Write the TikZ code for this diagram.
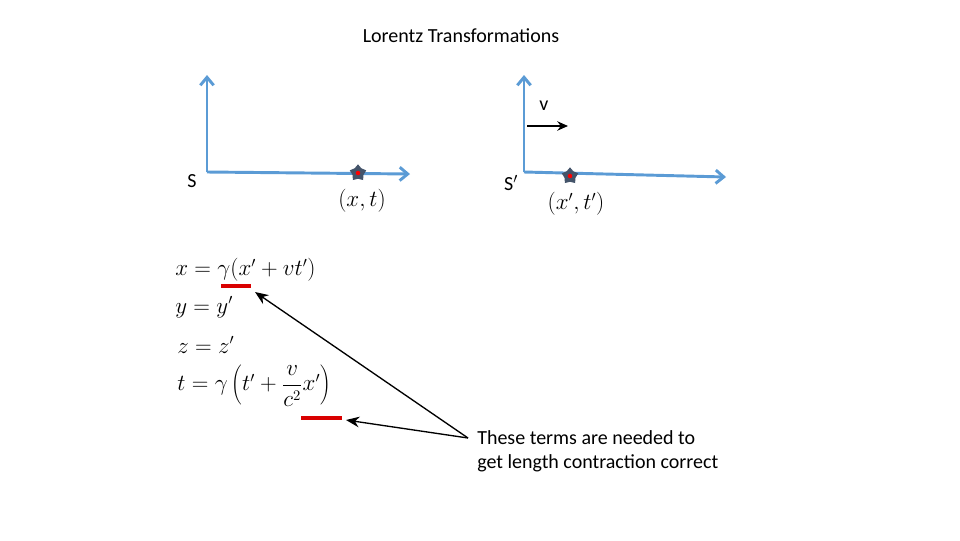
\documentclass[tikz,border=0pt]{standalone}
\usepackage{fontspec}
\setmainfont{Carlito}
\usetikzlibrary{arrows.meta,shapes.geometric}
\begin{document}
\begin{tikzpicture}[x=0.75pt,y=-0.75pt,
  ax/.style={draw={rgb,255:red,91;green,155;blue,213},line width=2.2pt,-{Straight Barb[length=6pt,width=10pt]}},
  starmark/.style={star,star points=5,fill={rgb,255:red,68;green,84;blue,106},minimum size=13pt,inner sep=0pt},
  txt/.style={font=\fontsize{15}{18}\selectfont,inner sep=0pt},
  eq/.style={font=\fontsize{16}{19}\selectfont,inner sep=0pt,anchor=west},
  redbar/.style={draw=red!85!black,line width=3pt},
  pt/.style={-{Stealth[length=10pt,width=8pt]},line width=1pt}]
\useasboundingbox (0,0) rectangle (960,540);
\node[txt] (title) at (461,36) {Lorentz Transformations};
% S frame
\coordinate (so) at (207,172);
\coordinate (sy) at (207,75);
\coordinate (sx) at (410,174);
\draw[ax] (so) -- (sy);
\draw[ax] (so) -- (sx);
\node[txt] (sl) at (192,181) {S};
\node[starmark] (s1) at (358,173) {};
\node[circle,fill=red,inner sep=1.2pt] (d1) at (358,173) {};
\node[eq,anchor=center] (xt) at (362,201) {$(x,t)$};
% S' frame
\coordinate (po) at (524,172);
\coordinate (py) at (524,75);
\coordinate (px) at (726,177);
\draw[ax] (po) -- (py);
\draw[ax] (po) -- (px);
\node[txt] (pl) at (511,183) {S$'$};
\node[starmark] (s2) at (570,176) {};
\node[circle,fill=red,inner sep=1.2pt] (d2) at (570,176) {};
\node[eq,anchor=center] (xtp) at (576,204) {$(x',t')$};
\coordinate (va) at (527,126);
\coordinate (vb) at (568,126);
\draw[line width=1.6pt,-{Stealth[length=8pt,width=7pt]}] (va) -- (vb);
\node[txt] (vl) at (544,106) {v};
% equations
\node[eq] (e1) at (175,270) {$x=\gamma(x'+vt')$};
\node[eq] (e2) at (175,307) {$y=y'$};
\node[eq] (e3) at (177,345) {$z=z'$};
\node[eq] (e4) at (177,386) {$t=\gamma\left(t'+{\displaystyle\frac{v}{c^2}}x'\right)$};
\coordinate (r1a) at (221,286); \coordinate (r1b) at (251,286);
\coordinate (r2a) at (301,418); \coordinate (r2b) at (342,418);
\draw[redbar] (r1a) -- (r1b);
\draw[redbar] (r2a) -- (r2b);
\node[txt,align=left,anchor=north west] (note) at (477,430) {These terms are needed to\\get length contraction correct};
\coordinate (src) at (468,438);
\coordinate (t1) at (255,292);
\coordinate (t2) at (346,420);
\draw[pt] (src) -- (t1);
\draw[pt] (src) -- (t2);
\end{tikzpicture}
\end{document}
